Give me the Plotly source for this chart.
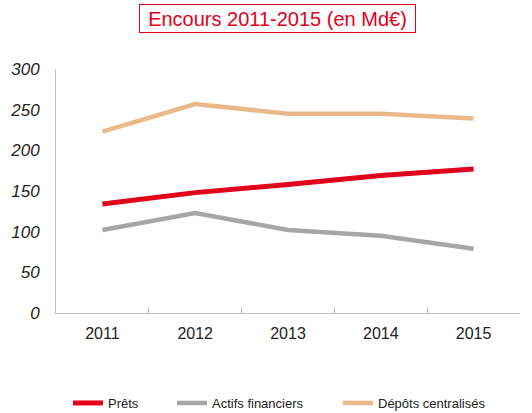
import plotly.graph_objects as go

years = ["2011", "2012", "2013", "2014", "2015"]
prets = [134, 148, 158, 169, 177]
actifs = [102, 123, 102, 95, 79]
depots = [223, 257, 245, 245, 239]
y_ticks = [0, 50, 100, 150, 200, 250, 300]

W, H = 532, 413
L, T, R, B = 56, 69, 532 - 520, 413 - 313
PW, PH = W - L - R, H - T - B

def px(x):
    return (x - L) / PW

def py(y):
    return (H - B - y) / PH

fig = go.Figure()
fig.add_trace(go.Scatter(x=years, y=prets, name="Prêts", mode="lines", legend="legend",
                         line=dict(color="#e2001a", width=5)))
fig.add_trace(go.Scatter(x=years, y=actifs, name="Actifs financiers", mode="lines", legend="legend2",
                         line=dict(color="#a6a6a6", width=4.5)))
fig.add_trace(go.Scatter(x=years, y=depots, name="Dépôts centralisés", mode="lines", legend="legend3",
                         line=dict(color="#e9b98a", width=4.5)))

leg_common = dict(orientation="h", xanchor="left", yanchor="middle", y=py(403),
                  font=dict(size=13, color="#222222"), itemwidth=30, bgcolor="rgba(0,0,0,0)")

fig.update_layout(
    width=W, height=H,
    margin=dict(l=L, r=R, t=T, b=B, autoexpand=False),
    paper_bgcolor="white", plot_bgcolor="white",
    font=dict(family="Liberation Sans, Arial", color="#222222"),
    showlegend=True,
    legend=dict(x=px(108 - 40), **leg_common),
    legend2=dict(x=px(212 - 40), **leg_common),
    legend3=dict(x=px(378 - 40), **leg_common),
)

fig.add_annotation(text="Encours 2011-2015 (en Md€)", xref="paper", yref="paper",
                   x=px(277.5), y=py(18.5), showarrow=False,
                   font=dict(size=20, color="#e2001a"),
                   width=275, height=27, align="center",
                   bordercolor="#e2001a", borderwidth=1, borderpad=0,
                   xanchor="center", yanchor="middle")

fig.update_xaxes(type="category", range=[-0.5, 4.5], tickson="boundaries",
                 ticks="inside", ticklen=6, tickcolor="#bfbfbf",
                 showline=True, linecolor="#bfbfbf", linewidth=1, automargin=False,
                 showgrid=False, tickfont=dict(size=16, color="#222222"),
                 ticklabelstandoff=6)
fig.update_yaxes(range=[0, 300], tickvals=y_ticks, showgrid=False, zeroline=False,
                 showline=True, linecolor="#bfbfbf", linewidth=1, automargin=False,
                 tickfont=dict(size=17, color="#222222", style="italic"),
                 ticklabelstandoff=12)

fig.write_html("out.html", config={"displayModeBar": False},
               post_script="document.body.style.margin='0';document.body.style.padding='0';")
